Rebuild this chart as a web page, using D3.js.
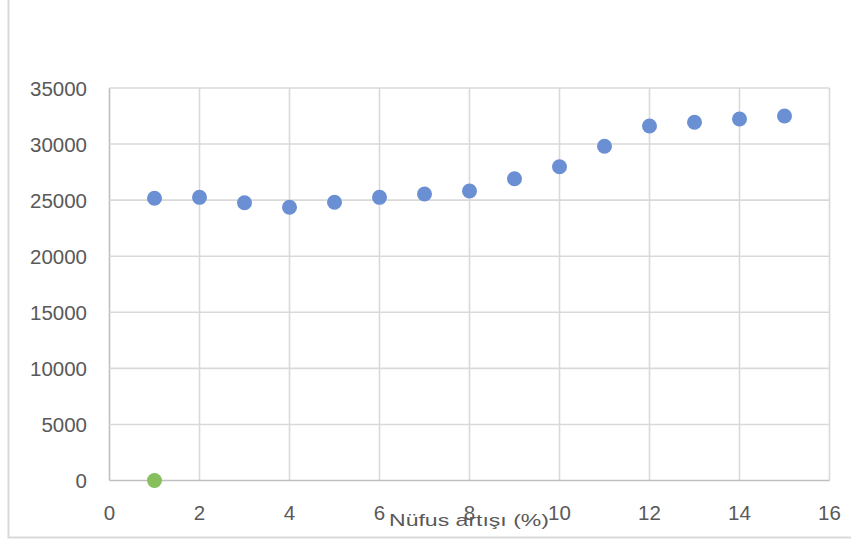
<!DOCTYPE html>
<html>
<head>
<meta charset="utf-8">
<script src="https://cdn.jsdelivr.net/npm/d3@7"></script>
<style>
  html, body { margin: 0; padding: 0; background: #fff; }
  svg { display: block; }
</style>
</head>
<body>
<svg id="chart"></svg>
<script>
// x values (Nüfus artışı %) and y values
const xVals = [1, 2, 3, 4, 5, 6, 7, 8, 9, 10, 11, 12, 13, 14, 15];
const yVals = [25170, 25250, 24770, 24360, 24810, 25250, 25550, 25815, 26910, 27980, 29800, 31610, 31940, 32240, 32500];
// second series: a single point
const xVals2 = [1];
const yVals2 = [0];

const xTicks = [0, 2, 4, 6, 8, 10, 12, 14, 16];
const yTicks = [0, 5000, 10000, 15000, 20000, 25000, 30000, 35000];
const xTitle = 'Nüfus artışı (%)';

init();

function init() {
    const w = 851, h = 544;
    const svg = d3.select('#chart').attr('width', w).attr('height', h);

    // outer chart frame (only left and bottom edges fall inside the picture)
    svg.append('rect')
        .attr('x', 8.5).attr('y', -20)
        .attr('width', 900).attr('height', 557.5)
        .attr('fill', 'none')
        .attr('stroke', '#d9d9d9')
        .attr('stroke-width', 2);

    const x = d3.scaleLinear().domain([0, 16]).range([109.5, 829.5]);
    const y = d3.scaleLinear().domain([0, 35000]).range([480.5, 88]);

    const gGrid = svg.append('g');
    xTicks.forEach(d => {
        gGrid.append('line')
            .attr('x1', x(d)).attr('x2', x(d))
            .attr('y1', y(35000)).attr('y2', y(0))
            .attr('stroke', d === 0 ? '#bfbfbf' : '#d9d9d9')
            .attr('stroke-width', 1.6);
    });
    yTicks.forEach(d => {
        gGrid.append('line')
            .attr('x1', x(0)).attr('x2', x(16))
            .attr('y1', y(d)).attr('y2', y(d))
            .attr('stroke', d === 0 ? '#bfbfbf' : '#d9d9d9')
            .attr('stroke-width', 1.6);
    });

    const font = '"Liberation Sans", Arial, sans-serif';

    svg.append('g').selectAll('text').data(yTicks).join('text')
        .attr('x', 87)
        .attr('y', d => y(d) + 7.5)
        .attr('text-anchor', 'end')
        .attr('font-family', font)
        .attr('font-size', 20.5)
        .attr('fill', '#595959')
        .text(d => d);

    svg.append('g').selectAll('text').data(xTicks).join('text')
        .attr('x', d => x(d))
        .attr('y', 520)
        .attr('text-anchor', 'middle')
        .attr('font-family', font)
        .attr('font-size', 20.5)
        .attr('fill', '#595959')
        .text(d => d);

    svg.append('text')
        .attr('x', 389)
        .attr('y', 526)
        .attr('font-family', font)
        .attr('font-size', 17)
        .attr('fill', '#595959')
        .attr('textLength', 160)
        .attr('lengthAdjust', 'spacingAndGlyphs')
        .text(xTitle);

    const pts = xVals.map((v, i) => ({ x: v, y: yVals[i] }));
    svg.append('g').selectAll('circle').data(pts).join('circle')
        .attr('cx', d => x(d.x))
        .attr('cy', d => y(d.y))
        .attr('r', 7.5)
        .attr('fill', '#6a8fd3');

    const pts2 = xVals2.map((v, i) => ({ x: v, y: yVals2[i] }));
    svg.append('g').selectAll('circle').data(pts2).join('circle')
        .attr('cx', d => x(d.x))
        .attr('cy', d => y(d.y))
        .attr('r', 7.5)
        .attr('fill', '#86bf5c');
}
</script>
</body>
</html>
